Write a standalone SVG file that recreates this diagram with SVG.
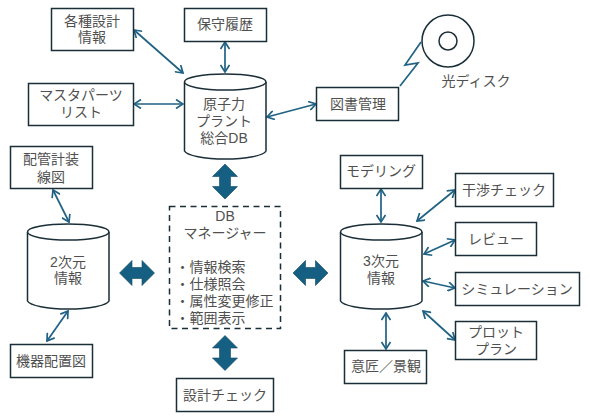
<svg xmlns="http://www.w3.org/2000/svg" width="590" height="417" viewBox="0 0 590 417">
<defs>
<marker id="a" viewBox="0 0 10 10" refX="9" refY="5" markerWidth="10" markerHeight="10" markerUnits="userSpaceOnUse" orient="auto-start-reverse"><path d="M2 0.5 L9 5 L2 9.5" fill="none" stroke="#1f6284" stroke-width="1.7"/></marker>
<path id="dv" d="M0 -17.5 L12.500 -5 L5.500 -5 L5.500 5 L12.500 5 L0 17.500 L-12.500 5 L-5.500 5 L-5.500 -5 L-12.500 -5 Z" fill="#156082" stroke="#0f4761" stroke-width="0.6"/>
</defs>
<style>
.b{fill:#fff;stroke:#1a2e38;stroke-width:1.5}
.c{stroke:#1a2e38;stroke-width:1.5;fill:#fff}
.l{stroke:#1f6284;stroke-width:1.7;fill:none;marker-start:url(#a);marker-end:url(#a)}
text{font-family:"Liberation Sans","Noto Sans CJK JP",sans-serif;font-size:14px;fill:#505050;text-anchor:middle}
.s{text-anchor:start}
</style>
<rect width="590" height="417" fill="#fff"/>
<g id="connectors">
<line class="l" x1="134" y1="30" x2="183" y2="73"/>
<line class="l" x1="225" y1="42" x2="225" y2="72"/>
<line class="l" x1="134" y1="104" x2="183" y2="104"/>
<line class="l" x1="267" y1="117" x2="316" y2="104"/>
<line class="l" x1="53" y1="190" x2="69" y2="222"/>
<line class="l" x1="68" y1="311" x2="47" y2="341"/>
<line class="l" x1="381" y1="189" x2="381" y2="222"/>
<line class="l" x1="455" y1="190" x2="417" y2="221"/>
<line class="l" x1="455" y1="240" x2="424" y2="254"/>
<line class="l" x1="455" y1="288" x2="423" y2="281"/>
<line class="l" x1="455" y1="340" x2="423" y2="311"/>
<line class="l" x1="386" y1="313" x2="386" y2="349"/>
<path d="M400 86 L418 63 L405 65 L421 42" fill="none" stroke="#1f6284" stroke-width="1.7"/>
<use href="#dv" x="225" y="181.500"/>
<use href="#dv" x="225" y="353"/>
<use href="#dv" transform="translate(137 273) rotate(90)"/>
<use href="#dv" transform="translate(310.500 273) rotate(90)"/>
</g>
<g id="n1"><rect class="b" x="51.500" y="8.500" width="82" height="42"/><text x="92" y="26">各種設計</text><text x="92" y="42">情報</text></g>
<g id="n2"><rect class="b" x="184.500" y="8.500" width="82" height="33"/><text x="225" y="29">保守履歴</text></g>
<g id="n3"><rect class="b" x="28.500" y="83.500" width="105" height="42"/><text x="81" y="100">マスタパーツ</text><text x="81" y="117">リスト</text></g>
<g id="n4"><rect class="b" x="10.500" y="146.500" width="82" height="42"/><text x="51" y="164">配管計装</text><text x="51" y="182">線図</text></g>
<g id="n5"><rect class="b" x="316.500" y="87.500" width="82" height="33"/><text x="358" y="109">図書管理</text></g>
<g id="n6"><rect class="b" x="340.500" y="155.500" width="82" height="33"/><text x="381" y="176">モデリング</text></g>
<g id="n7"><rect class="b" x="455.500" y="173.500" width="98" height="33"/><text x="504" y="195">干渉チェック</text></g>
<g id="n8"><rect class="b" x="455.500" y="222.500" width="81" height="33"/><text x="496" y="244">レビュー</text></g>
<g id="n9"><rect class="b" x="455.500" y="272.500" width="124" height="33"/><text x="517" y="294">シミュレーション</text></g>
<g id="n10"><rect class="b" x="455.500" y="321.500" width="81" height="38"/><text x="496" y="337">プロット</text><text x="496" y="354">プラン</text></g>
<g id="n11"><rect class="b" x="344.500" y="350.500" width="82" height="33"/><text x="386" y="371">意匠／景観</text></g>
<g id="n12"><rect class="b" x="10.500" y="344.500" width="82" height="33"/><text x="51" y="366">機器配置図</text></g>
<g id="n13"><rect class="b" x="176.500" y="378.500" width="97" height="33"/><text x="225" y="400">設計チェック</text></g>
<g id="db1"><path class="c" d="M184.500 82 V151 A41 9 0 0 0 266 151 V82"/><ellipse class="c" cx="225.250" cy="82" rx="40.750" ry="8"/><text x="224" y="109">原子力</text><text x="224" y="126">プラント</text><text x="224" y="143">総合DB</text></g>
<g id="db2"><path class="c" d="M27.500 232 V301 A41 9 0 0 0 109 301 V232"/><ellipse class="c" cx="68.250" cy="232" rx="40.750" ry="8"/><text x="68" y="267">2次元</text><text x="68" y="283">情報</text></g>
<g id="db3"><path class="c" d="M340.500 232 V301 A41 9 0 0 0 422 301 V232"/><ellipse class="c" cx="381.250" cy="232" rx="40.750" ry="8"/><text x="381" y="266">3次元</text><text x="381" y="283">情報</text></g>
<g id="mgr"><rect x="169.500" y="206.500" width="111" height="122" fill="#fff" stroke="#1a2e38" stroke-width="1.500" stroke-dasharray="6 4.500"/>
<text x="225" y="221">DB</text><text x="225" y="238">マネージャー</text>
<text class="s" x="175.500" y="272">・情報検索</text><text class="s" x="175.500" y="289">・仕様照会</text><text class="s" x="175.500" y="306">・属性変更修正</text><text class="s" x="175.500" y="323">・範囲表示</text></g>
<g id="disc"><circle cx="448" cy="41" r="26" fill="#fff" stroke="#1a2e38" stroke-width="1.500"/><circle cx="448" cy="41" r="9" fill="#fff" stroke="#1a2e38" stroke-width="1.500"/><text x="476" y="86">光ディスク</text></g>
</svg>
